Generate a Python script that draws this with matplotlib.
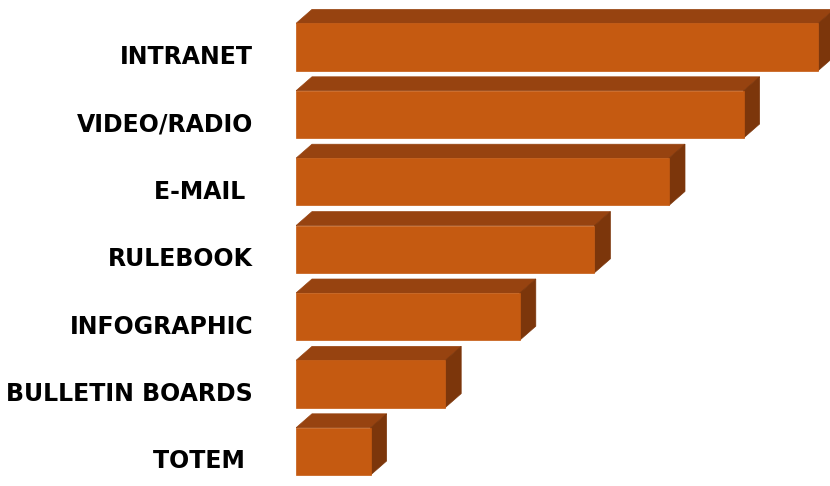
import matplotlib
matplotlib.use("Agg")
import matplotlib.pyplot as plt
from matplotlib.patches import Polygon
import matplotlib.transforms as mtransforms

categories = ["INTRANET", "VIDEO/RADIO", "E-MAIL ", "RULEBOOK", "INFOGRAPHIC", "BULLETIN BOARDS", "TOTEM "]
values = [7, 6, 5, 4, 3, 2, 1]

W, H = 830, 486
fig = plt.figure(figsize=(W / 100, H / 100), dpi=100)
x0_px = 296
ax = fig.add_axes([x0_px / W, 0, 1 - x0_px / W, 1])

px_per_unit_x = 74.6
px_per_unit_y = 67.4
first_center_px = 47
ax.set_xlim(0, (W - x0_px) / px_per_unit_x)
ax.set_ylim((H - first_center_px) / px_per_unit_y, -first_center_px / px_per_unit_y)
ax.axis("off")

front = "#C55A11"
top = "#974310"
side = "#7C360B"
bar_h = 0.70
dx = 16 / px_per_unit_x
dy = 14 / px_per_unit_y

ypos = list(range(len(categories)))
ax.barh(ypos, values, height=bar_h, color=front, edgecolor=front, linewidth=0.5, zorder=2)
for y, v in zip(ypos, values):
    yt = y - bar_h / 2
    yb = y + bar_h / 2
    ax.add_patch(Polygon([(0, yt), (v, yt), (v + dx, yt - dy), (dx, yt - dy)],
                         closed=True, facecolor=top, edgecolor=top, linewidth=0.5, zorder=1))
    ax.add_patch(Polygon([(v, yt), (v + dx, yt - dy), (v + dx, yb - dy), (v, yb)],
                         closed=True, facecolor=side, edgecolor=side, linewidth=0.5, zorder=1))

trans = mtransforms.blended_transform_factory(fig.transFigure, ax.transData)
off = mtransforms.ScaledTranslation(0, -10 / 100, fig.dpi_scale_trans)
for y, c in zip(ypos, categories):
    fig.text(253 / W, y, c, transform=trans + off, ha="right", va="center",
             fontsize=17, fontweight="bold", family="DejaVu Sans", color="#000000")

fig.savefig("out.png", dpi=100)
